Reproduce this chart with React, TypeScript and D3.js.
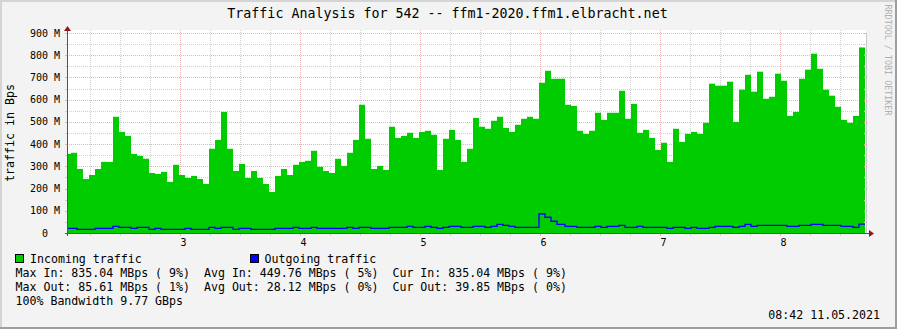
import React from 'react';
import * as d3 from 'd3';

const W = 897;
const H = 329;

// Incoming traffic per sample (MBps)
const incoming = [
  356, 361, 288, 243, 261, 288, 320, 320, 523, 455,
  437, 356, 347, 334, 270, 266, 275, 230, 307, 261,
  248, 257, 243, 221, 379, 419, 545, 379, 279, 311,
  248, 279, 248, 221, 185, 257, 288, 261, 307, 320,
  325, 370, 298, 279, 270, 334, 302, 361, 419, 577,
  424, 288, 302, 284, 478, 428, 437, 451, 428, 455,
  460, 442, 284, 424, 464, 419, 320, 379, 518, 478,
  469, 505, 523, 473, 455, 487, 514, 523, 514, 676,
  730, 694, 694, 577, 572, 460, 446, 460, 541, 509,
  541, 541, 640, 514, 581, 451, 464, 428, 374, 406,
  320, 469, 410, 446, 455, 446, 496, 672, 663, 663,
  681, 500, 645, 712, 636, 726, 604, 613, 717, 685,
  527, 545, 694, 735, 807, 739, 645, 618, 568, 509,
  496, 527, 835,
];

// Outgoing traffic per sample (MBps)
const outgoing = [
  21, 21, 16.5, 16.5, 16.5, 21, 21, 21, 30, 25.5,
  25.5, 21, 25.5, 25.5, 16.5, 21, 16.5, 16.5, 16.5, 16.5,
  21, 16.5, 16.5, 16.5, 25.5, 21, 25.5, 25.5, 16.5, 21,
  21, 16.5, 16.5, 16.5, 16.5, 21, 21, 21, 25.5, 21,
  21, 25.5, 21, 21, 21, 21, 21, 25.5, 21, 25.5,
  25.5, 21, 21, 21, 25.5, 25.5, 25.5, 30, 25.5, 25.5,
  30, 25.5, 21, 25.5, 30, 30, 25.5, 25.5, 30, 30,
  25.5, 30, 39, 34.5, 30, 25.5, 25.5, 25.5, 25.5, 85.6,
  70.6, 52.6, 39, 30, 30, 25.5, 25.5, 25.5, 30, 25.5,
  30, 30, 34.5, 25.5, 25.5, 30, 25.5, 25.5, 25.5, 25.5,
  21, 25.5, 25.5, 21, 25.5, 21, 21, 25.5, 30, 30,
  30, 25.5, 30, 39, 30, 34.5, 34.5, 34.5, 34.5, 34.5,
  30, 30, 34.5, 34.5, 39, 39, 34.5, 34.5, 34.5, 30,
  30, 25.5, 39.85,
];

// Time axis (minutes since midnight)
const domainStartMin = 123.5;
const domainEndMin = 523;
const firstBarEndMin = 125.5;
const sampleMinutes = 3;
const longSampleIndex = 82; // one sample spans 4 minutes
const longSampleMinutes = 4;

const hourLabels = ['3', '4', '5', '6', '7', '8'];
const hourValues = [3, 4, 5, 6, 7, 8];
const yTickValues = [0, 100, 200, 300, 400, 500, 600, 700, 800, 900];
const yMinorValues = [50, 150, 250, 350, 450, 550, 650, 750, 850];

const title = 'Traffic Analysis for 542 -- ffm1-2020.ffm1.elbracht.net';
const yTitle = 'traffic in Bps';
const legendIn = 'Incoming traffic';
const legendOut = 'Outgoing traffic';
const statRows = [
  'Max In: 835.04 MBps ( 9%)  Avg In: 449.76 MBps ( 5%)  Cur In: 835.04 MBps ( 9%)',
  'Max Out: 85.61 MBps ( 1%)  Avg Out: 28.12 MBps ( 0%)  Cur Out: 39.85 MBps ( 0%)',
  '100% Bandwidth 9.77 GBps',
];
const timestamp = '08:42 11.05.2021';
const watermark = 'RRDTOOL / TOBI OETIKER';

const FONT = '"DejaVu Sans Mono", monospace';
const GREEN = '#00CC00';
const BLUE = '#0000FF';
const MINOR = '#cfcfcf';
const MAJOR = '#eab4b4';
const AXIS = '#555555';
const ARROW = '#8c1c1c';

export default function App() {
  const left = 67;
  const right = 866;
  const bottom = 233;
  const canvasTop = 30;

  const x = d3.scaleLinear().domain([domainStartMin, domainEndMin]).range([left, right]);
  const y = d3.scaleLinear().domain([0, 900]).range([bottom, 33]);

  const ends: number[] = [];
  incoming.forEach((_, i) => {
    if (i === 0) ends.push(firstBarEndMin);
    else ends.push(ends[i - 1] + (i === longSampleIndex ? longSampleMinutes : sampleMinutes));
  });
  const starts = ends.map((_, i) => (i === 0 ? domainStartMin : ends[i - 1]));

  const outPts: [number, number][] = [];
  outgoing.forEach((v, i) => {
    outPts.push([Math.round(x(starts[i])), y(v)], [Math.round(x(ends[i])), y(v)]);
  });
  const outPath = d3.line()(outPts) || '';

  const minorV: number[] = [];
  for (let m = Math.ceil(domainStartMin / 15) * 15; m < domainEndMin; m += 15) {
    if (m % 60 !== 0) minorV.push(m);
  }
  const majorV = hourValues.map((h) => h * 60);

  const px = (v: number) => Math.round(v) + 0.5;
  const nb = '\u00a0';

  return (
    <svg
      width={W}
      height={H}
      viewBox={`0 0 ${W} ${H}`}
      style={{ position: 'absolute', left: 0, top: 0, display: 'block' }}
      fontFamily={FONT}
    >
      {/* background and frame */}
      <rect x={0} y={0} width={W} height={H} fill="#F3F3F3" />
      <rect x={0} y={0} width={W} height={2} fill="#D4D4D4" />
      <rect x={0} y={0} width={2} height={H} fill="#D4D4D4" />
      <rect x={0} y={H - 2} width={W} height={2} fill="#9E9E9E" />
      <rect x={W - 2} y={0} width={2} height={H} fill="#9E9E9E" />

      {/* canvas */}
      <rect x={left} y={canvasTop} width={right - left} height={bottom - canvasTop} fill="#FFFFFF" />

      {/* minor grid */}
      {yMinorValues.map((v) => (
        <line key={'hm' + v} x1={left} x2={right} y1={px(y(v))} y2={px(y(v))}
          stroke={MINOR} strokeWidth={1} strokeDasharray="1,1" shapeRendering="crispEdges" />
      ))}
      {minorV.map((m) => (
        <line key={'vm' + m} x1={px(x(m))} x2={px(x(m))} y1={canvasTop} y2={bottom}
          stroke={MINOR} strokeWidth={1} strokeDasharray="1,1" shapeRendering="crispEdges" />
      ))}
      {/* major grid */}
      {yTickValues.filter((v) => v > 0).map((v) => (
        <line key={'hM' + v} x1={left} x2={right} y1={px(y(v))} y2={px(y(v))}
          stroke={MAJOR} strokeWidth={1} strokeDasharray="1,1" shapeRendering="crispEdges" />
      ))}
      {majorV.map((m) => (
        <line key={'vM' + m} x1={px(x(m))} x2={px(x(m))} y1={canvasTop} y2={bottom}
          stroke={MAJOR} strokeWidth={1} strokeDasharray="1,1" shapeRendering="crispEdges" />
      ))}

      {/* incoming bars */}
      {incoming.map((v, i) => {
        const x0 = Math.round(x(starts[i]));
        const x1 = Math.round(x(ends[i]));
        return (
          <rect key={'b' + i} x={x0} y={y(v)} width={x1 - x0}
            height={bottom - y(v)} fill={GREEN} />
        );
      })}

      {/* outgoing line */}
      <path d={outPath} fill="none" stroke={BLUE} strokeWidth={1.4} />

      {/* right edge */}
      <line x1={right + 0.5} x2={right + 0.5} y1={33} y2={bottom} stroke="#c8c8c8" strokeWidth={1} />

      {/* ticks on the edges */}
      {yMinorValues.map((v) => (
        <g key={'tm' + v}>
          <line x1={left - 2} x2={left} y1={px(y(v))} y2={px(y(v))} stroke={MINOR} />
          <line x1={right - 2} x2={right + 1} y1={px(y(v))} y2={px(y(v))} stroke={MINOR} />
        </g>
      ))}
      {yTickValues.filter((v) => v > 0).map((v) => (
        <g key={'tM' + v}>
          <line x1={left - 2} x2={left} y1={px(y(v))} y2={px(y(v))} stroke={MAJOR} />
          <line x1={right - 2} x2={right + 1} y1={px(y(v))} y2={px(y(v))} stroke={MAJOR} />
        </g>
      ))}
      {minorV.map((m) => (
        <line key={'tv' + m} x1={px(x(m))} x2={px(x(m))} y1={bottom} y2={bottom + 3} stroke={MINOR} />
      ))}
      {majorV.map((m) => (
        <line key={'tV' + m} x1={px(x(m))} x2={px(x(m))} y1={bottom} y2={bottom + 3} stroke={MAJOR} />
      ))}

      {/* axes */}
      <line x1={left - 2} x2={right + 3} y1={bottom + 0.5} y2={bottom + 0.5} stroke={AXIS} strokeWidth={1} />
      <line x1={left + 0.5} x2={left + 0.5} y1={bottom + 3} y2={30} stroke={AXIS} strokeWidth={1} />
      <path d={`M${left - 3},${31} L${left + 0.5},${26} L${left + 4},${31} Z`} fill={ARROW} />
      <path d={`M${right + 3},${bottom - 3} L${right + 8},${bottom + 0.5} L${right + 3},${bottom + 4} Z`} fill={ARROW} />

      {/* y labels */}
      {yTickValues.map((v) => (
        <text key={'yl' + v} x={60} y={y(v)} dy="0.36em" textAnchor="end" fontSize={10} fill="#000">
          {v === 0 ? '0' + nb + nb : `${v} M`}
        </text>
      ))}
      {/* x labels */}
      {hourValues.map((h, i) => (
        <text key={'xl' + h} x={x(h * 60) + 3.5} y={246} textAnchor="middle" fontSize={10} fill="#000">
          {hourLabels[i]}
        </text>
      ))}

      {/* title */}
      <text x={447.5} y={18.3} textAnchor="middle" fontSize={13.3} fill="#000">{title}</text>

      {/* y title */}
      <text transform="translate(13.5,133) rotate(-90)" textAnchor="middle" fontSize={11.6} fill="#000">
        {yTitle}
      </text>

      {/* watermark */}
      <text transform="translate(885,4.5) rotate(90)" textAnchor="start" fontSize={8.4} fill="#b0b0b0">
        {watermark}
      </text>

      {/* legend */}
      <rect x={15.5} y={254.5} width={8} height={8} fill={GREEN} stroke="#000" strokeWidth={1} />
      <text x={30} y={262.5} fontSize={11.6} fill="#000">{legendIn}</text>
      <rect x={250.5} y={254.5} width={8} height={8} fill={BLUE} stroke="#000" strokeWidth={1} />
      <text x={264.5} y={262.5} fontSize={11.6} fill="#000">{legendOut}</text>
      {statRows.map((s, i) => (
        <text key={'sr' + i} x={15.5} y={276.8 + i * 14} fontSize={11.6} fill="#000"
          style={{ whiteSpace: 'pre' }} xmlSpace="preserve">
          {s}
        </text>
      ))}
      <text x={880} y={319} textAnchor="end" fontSize={11.6} fill="#000">{timestamp}</text>
    </svg>
  );
}
